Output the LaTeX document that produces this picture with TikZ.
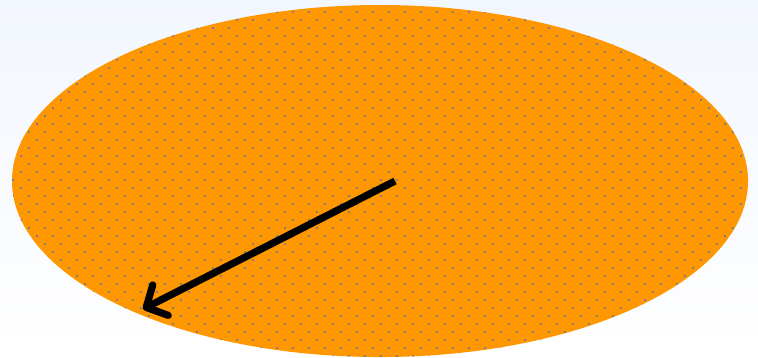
\documentclass[tikz,border=0pt]{standalone}
\usepackage{tikz}
\usetikzlibrary{arrows.meta}
\definecolor{skyTop}{RGB}{242,246,254}
\definecolor{diskOrange}{RGB}{255,151,0}
\definecolor{dotGray}{RGB}{125,125,140}
\tikzset{
	>={Straight Barb[length=3pt, width=6.4pt, round]},
	backdrop/.style={shade, top color=skyTop, bottom color=white, draw=none},
	disk/.style={fill=diskOrange, draw=none},
	dotmark/.style={fill=dotGray, draw=none},
	pointer/.style={black, line width=1.35pt, ->},
}

\begin{document}
\begin{tikzpicture}[x=0.1875pt, y=-0.1875pt]
		
		% ---- Background ----
		\path[backdrop] (0,0) rectangle (758,357);
		\useasboundingbox (0,0) rectangle (758,357);
		
		% ---- Ellipse ----
		\coordinate (C) at (380,181);
		\fill[disk] (C) ellipse [x radius=368, y radius=176];
		
		% ---- Dots inside the ellipse (staggered grid) ----
		\begin{scope}
			\clip (C) ellipse [x radius=368, y radius=176];
			\foreach \j in {0,...,22} {
				\foreach \i in {-19,...,28} {
					\fill[dotmark] ({309+16*\i-1},{12+16*\j-1}) rectangle ++(2,2);
					\fill[dotmark] ({301+16*\i-1},{4+16*\j-1}) rectangle ++(2,2);
				}
			}
		\end{scope}
		
		% ---- Arrow ----
		\coordinate (A) at (395,181);
		\coordinate (B) at (143,309);
		\draw[pointer] (A) -- (B);
		
	\end{tikzpicture}
\end{document}
